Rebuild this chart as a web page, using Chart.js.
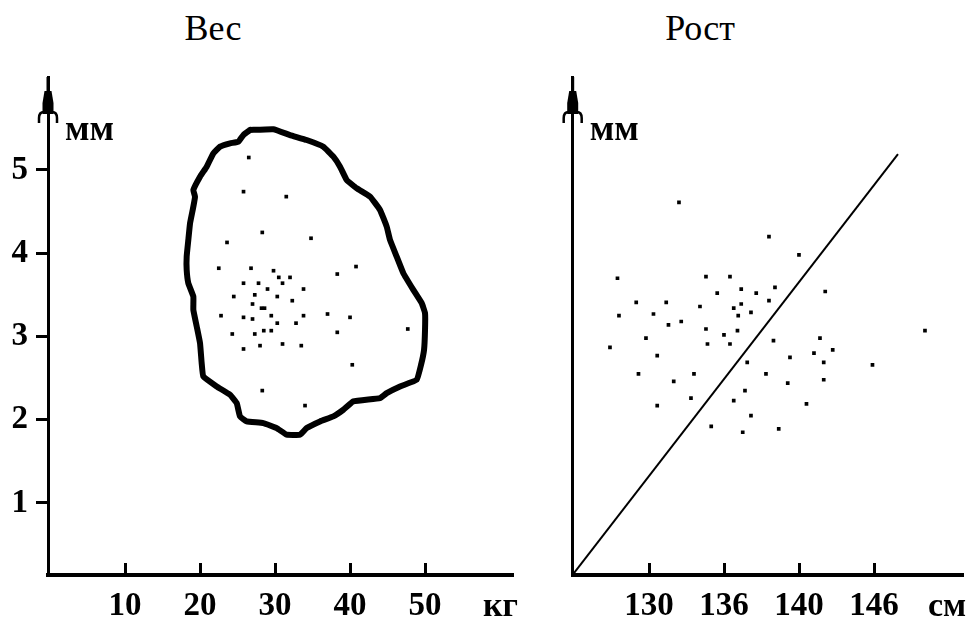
<!DOCTYPE html>
<html>
<head>
<meta charset="utf-8">
<script src="https://cdn.jsdelivr.net/npm/chart.js@4/dist/chart.umd.min.js"></script>
<style>
  body { margin: 0; background: #fff; }
  #wrap { position: relative; width: 971px; height: 618px; overflow: hidden; }
  canvas { position: absolute; top: 0; }
  .title { position: absolute; top: 10px; font: 36px/36px 'Liberation Serif', 'Times New Roman', serif; color: #000; transform: translateX(-50%); white-space: nowrap; }
</style>
</head>
<body>
<div id="wrap">
  <div class="title" style="left:213px">Вес</div>
  <div class="title" style="left:700px">Рост</div>
  <canvas id="weightChart" width="520" height="618" style="left:0"></canvas>
  <canvas id="heightChart" width="451" height="618" style="left:520px"></canvas>
</div>
<script>
// Вес: точки (кг, мм)
const weightKg = [26.5, 25.8, 31.5, 28.3, 23.6, 34.8, 22.5, 26.8, 29.8, 30.5, 32.0, 31.0, 25.8, 27.8,
  29.0, 33.8, 24.5, 27.3, 30.3, 32.3, 27.0, 28.2, 28.6, 22.8, 25.8, 27.0, 29.5, 33.8, 30.3, 32.8,
  37.0, 40.0, 38.3, 40.8, 24.3, 27.3, 28.5, 29.5, 38.3, 47.7, 25.8, 28.0, 31.0, 33.5, 40.3, 28.3, 34.0];
const weightMm = [5.15, 4.74, 4.68, 4.25, 4.13, 4.18, 3.82, 3.82, 3.79, 3.71, 3.71, 3.64, 3.64, 3.64,
  3.57, 3.57, 3.48, 3.50, 3.48, 3.43, 3.39, 3.34, 3.34, 3.25, 3.23, 3.21, 3.25, 3.25, 3.16, 3.16,
  3.27, 3.23, 3.75, 3.84, 3.03, 3.03, 3.07, 3.07, 3.05, 3.09, 2.85, 2.89, 2.91, 2.89, 2.66, 2.35, 2.17];

// контур области
const contourKg = [26.67, 29.78, 32.0, 34.22, 36.44, 37.78, 38.67, 39.56, 40.89, 42.67, 44.0, 44.89,
  45.33, 46.22, 47.11, 48.44, 49.56, 50.0, 50.0, 49.87, 49.47, 48.89, 46.67, 44.89, 44.0, 40.44,
  39.11, 37.78, 36.0, 34.22, 33.33, 31.56, 30.22, 28.44, 26.22, 25.33, 24.89, 24.0, 22.22, 20.44,
  20.22, 20.0, 19.56, 19.11, 19.11, 18.44, 18.22, 18.22, 18.44, 18.67, 19.11, 19.33, 19.11, 20.0,
  20.89, 21.78, 22.67, 24.0, 25.11, 25.78, 26.67];
const contourMm = [5.48, 5.49, 5.42, 5.36, 5.28, 5.16, 5.04, 4.88, 4.78, 4.68, 4.52, 4.32,
  4.16, 3.96, 3.76, 3.56, 3.40, 3.28, 3.08, 2.84, 2.66, 2.48, 2.40, 2.32, 2.26, 2.22,
  2.12, 2.04, 1.98, 1.90, 1.82, 1.82, 1.90, 1.96, 1.98, 2.04, 2.20, 2.30, 2.40, 2.52,
  2.68, 2.92, 3.12, 3.32, 3.48, 3.64, 3.80, 3.96, 4.16, 4.36, 4.56, 4.68, 4.76, 4.92,
  5.04, 5.20, 5.28, 5.32, 5.34, 5.42, 5.48];

const weightTicks = [10, 20, 30, 40, 50];
const mmTicks = [1, 2, 3, 4, 5];

// Рост: положение по оси (1 = 130, 2 = 136, 3 = 140, 4 = 146), мм
const heightTickLabels = ['130', '136', '140', '146'];
const heightPos = [1.40, 2.60, 3.00, 0.58, 1.76, 2.08, 1.91, 2.23, 2.43, 2.68, 3.35, 0.83, 1.23, 1.68,
  2.13, 2.23, 2.60, 0.60, 1.06, 2.19, 2.36, 1.26, 1.43, 1.76, 2.00, 2.18, 4.68, 0.96, 0.48, 1.78,
  2.08, 2.66, 3.28, 3.45, 1.11, 2.88, 3.20, 2.31, 3.33, 3.98, 0.86, 1.60, 2.56, 1.33, 2.85, 3.33,
  1.11, 1.56, 2.13, 2.28, 3.10, 2.36, 1.83, 2.25, 2.73];
const heightMm = [4.61, 4.20, 3.98, 3.70, 3.72, 3.72, 3.52, 3.57, 3.52, 3.59, 3.54, 3.41, 3.41, 3.36,
  3.34, 3.39, 3.43, 3.25, 3.27, 3.25, 3.29, 3.14, 3.18, 3.09, 3.02, 3.07, 3.07, 2.98, 2.87, 2.91,
  2.91, 2.95, 2.98, 2.84, 2.77, 2.75, 2.80, 2.69, 2.69, 2.66, 2.55, 2.55, 2.55, 2.46, 2.44, 2.48,
  2.17, 2.26, 2.23, 2.35, 2.19, 2.05, 1.92, 1.85, 1.89];
const trendPos = [-0.02, 4.32];
const trendMm = [0.135, 5.19];

const yMin = 0.135, yMax = 6.117;

Chart.defaults.font.family = "'Liberation Serif', 'Times New Roman', serif";
Chart.defaults.color = '#000';

const toPoints = (xs, ys) => xs.map((x, i) => ({ x: x, y: ys[i] }));

// arrow on the y axis, inward ticks on the x axis, unit labels
const axisDecor = {
  id: 'axisDecor',
  afterDraw(chart, args, opts) {
    const ctx = chart.ctx;
    const { left, top, bottom } = chart.chartArea;
    const xs = chart.scales.x;
    ctx.save();
    ctx.fillStyle = '#000';
    ctx.strokeStyle = '#000';
    // x ticks pointing up
    ctx.lineWidth = 3;
    xs.ticks.forEach(t => {
      const px = Math.round(xs.getPixelForValue(t.value)) + 0.5;
      ctx.beginPath();
      ctx.moveTo(px, bottom);
      ctx.lineTo(px, bottom - 12);
      ctx.stroke();
    });
    // arrow head
    const x = left;
    ctx.fillRect(x - 1.5, top, 3, 16);
    ctx.beginPath();
    ctx.moveTo(x - 3.5, top + 14);
    ctx.lineTo(x + 3.5, top + 14);
    ctx.lineTo(x + 5.5, top + 26);
    ctx.lineTo(x + 5.5, top + 37);
    ctx.lineTo(x - 5.5, top + 37);
    ctx.lineTo(x - 5.5, top + 26);
    ctx.closePath();
    ctx.fill();
    ctx.lineWidth = 2.5;
    [-1, 1].forEach(s => {
      ctx.beginPath();
      ctx.moveTo(x + s * 4, top + 35);
      ctx.quadraticCurveTo(x + s * 9, top + 35, x + s * 9, top + 41);
      ctx.lineTo(x + s * 9, top + 46);
      ctx.stroke();
    });
    // units
    ctx.font = "bold 36px 'Liberation Serif', serif";
    ctx.textBaseline = 'alphabetic';
    ctx.textAlign = 'left';
    ctx.fillText('мм', left + 17, 140);
    ctx.font = "bold 34px 'Liberation Serif', serif";
    ctx.fillText(opts.unit, opts.unitX, 616);
    ctx.restore();
  }
};

const yScale = (showTicks, width) => ({
  type: 'linear',
  min: yMin,
  max: yMax,
  afterFit: s => { s.width = width; },
  afterBuildTicks: s => { s.ticks = showTicks ? mmTicks.map(v => ({ value: v })) : []; },
  border: { display: true, color: '#000', width: 3 },
  grid: { display: showTicks, drawOnChartArea: false, drawTicks: true, tickLength: 12, lineWidth: 3, color: '#000' },
  ticks: { display: showTicks, padding: 8, color: '#000', font: { size: 33, weight: 'bold' } }
});

const dotStyle = {
  showLine: false,
  pointStyle: 'rect',
  pointRadius: 2.6,
  pointBorderWidth: 0,
  backgroundColor: '#000',
  borderColor: '#000'
};

new Chart(document.getElementById('weightChart'), {
  type: 'scatter',
  data: {
    datasets: [
      { data: toPoints(contourKg, contourMm), showLine: true, borderColor: '#000', borderWidth: 6,
        borderJoinStyle: 'round', borderCapStyle: 'round', pointRadius: 0, tension: 0.1 },
      Object.assign({ data: toPoints(weightKg, weightMm) }, dotStyle)
    ]
  },
  options: {
    responsive: false,
    animation: false,
    layout: { padding: { top: 77, right: 7, left: 0, bottom: 0 } },
    plugins: { legend: { display: false }, tooltip: { enabled: false }, axisDecor: { unit: 'кг', unitX: 483 } },
    scales: {
      x: {
        type: 'linear',
        min: -0.27,
        max: 61.73,
        afterFit: s => { s.height = 43; },
        afterBuildTicks: s => { s.ticks = weightTicks.map(v => ({ value: v })); },
        border: { display: true, color: '#000', width: 4 },
        grid: { display: false, drawTicks: false },
        ticks: { padding: 12, color: '#000', maxRotation: 0, font: { size: 33, weight: 'bold' } }
      },
      y: yScale(true, 48)
    }
  },
  plugins: [axisDecor]
});

new Chart(document.getElementById('heightChart'), {
  type: 'scatter',
  data: {
    datasets: [
      { data: toPoints(trendPos, trendMm), showLine: true, borderColor: '#000', borderWidth: 2, pointRadius: 0 },
      Object.assign({ data: toPoints(heightPos, heightMm) }, dotStyle)
    ]
  },
  options: {
    responsive: false,
    animation: false,
    layout: { padding: { top: 77, right: 8, left: 0, bottom: 0 } },
    plugins: { legend: { display: false }, tooltip: { enabled: false }, axisDecor: { unit: 'см', unitX: 408 } },
    scales: {
      x: {
        type: 'linear',
        min: -0.017,
        max: 5.187,
        afterFit: s => { s.height = 43; },
        afterBuildTicks: s => { s.ticks = heightTickLabels.map((_, i) => ({ value: i + 1 })); },
        border: { display: true, color: '#000', width: 4 },
        grid: { display: false, drawTicks: false },
        ticks: {
          padding: 12, color: '#000', maxRotation: 0, font: { size: 33, weight: 'bold' },
          callback: v => heightTickLabels[v - 1]
        }
      },
      y: yScale(false, 52.7)
    }
  },
  plugins: [axisDecor]
});
</script>
</body>
</html>
